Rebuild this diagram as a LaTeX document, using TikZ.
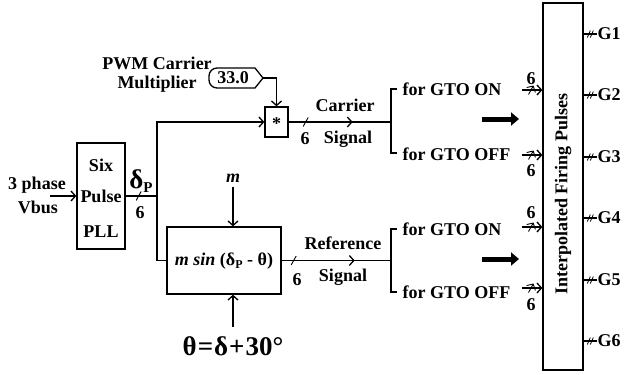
\documentclass[tikz,border=0pt]{standalone}
\usepackage{fontspec}
\setmainfont{Liberation Serif}
\usetikzlibrary{arrows.meta,decorations.markings}
\begin{document}
\begin{tikzpicture}[x=1pt,y=-1pt,line width=1.3pt,
  every node/.style={font=\fontsize{18}{20}\bfseries\selectfont,inner sep=0pt},
  blk/.style={draw,rectangle},
  arr/.style={-{Straight Barb[length=4.5pt,width=10pt]}},
  slash/.style={postaction={decorate,decoration={markings,
     mark=at position #1 with {\draw[line width=0.9pt] (-2.5,4.5) -- (2.5,-4.5);}}}},
  dslash/.style={postaction={decorate,decoration={markings,
     mark=at position 0.5 with {\draw[line width=0.8pt] (-3,3.5) -- (0,-3.5) (0,3.5) -- (3,-3.5);}}}},
  midarr/.style={postaction={decorate,decoration={markings,
     mark=at position #1 with {\arrow{Straight Barb[length=4.5pt,width=10pt]}}}}},
  thick arr/.style={line width=5pt,-{Triangle[length=8pt,width=13pt]}}
]
\useasboundingbox (0,0) rectangle (627,375);

% input
\node (ph) at (37,185) {3 phase};
\node (vb) at (38,207) {Vbus};
\coordinate (vin) at (50,196);

% PLL
\node[blk,minimum width=48,minimum height=106] (pll) at (101,196) {};
\node (six) at (101,165) {Six};
\node (pulse) at (101,196) {Pulse};
\node (plltxt) at (101,232) {PLL};
\draw[arr] (vin) -- (vin -| pll.west);

\node (dp) at (141,181) {\fontsize{27}{27}\selectfont δ\raisebox{-4pt}{\fontsize{15}{15}\selectfont P}};
\node (six1) at (140,213) {6};
\coordinate (j1) at (157,196);
\draw[slash=13pt] (pll.east) -- (j1);

% PWM constant
\node (pwm) at (157,63) {PWM Carrier};
\node (mult) at (157,84) {Multiplier};
\coordinate (ctip) at (263,78);
\draw (ctip) -- (255,88) [rounded corners=8pt] -- (209,88) -- (209,68) [sharp corners] -- (255,68) -- cycle;
\node (c33) at (233,78) {33.0};

% multiplier
\node[blk,minimum width=23,minimum height=30] (mul) at (276.5,122) {};
\node (star) at (276.5,124) {*};
\draw[arr] (ctip) -| (mul.north);
\draw[arr] (j1) |- (mul.west);

% m sin block
\node[blk,minimum width=114,minimum height=67] (ms) at (224,260.5) {};
\node (mstxt) at (224,261) {\itshape m sin\upshape\ (δ\raisebox{-3pt}{\fontsize{12}{12}\selectfont P} - θ)};
\draw (j1) |- (ms.west);
\node (m) at (233,178) {\itshape m};
\draw[arr] (m.south) ++(0,4) coordinate (mtop) (mtop) -- (mtop |- ms.north);
\node (theta) at (233,346) {\fontsize{27}{27}\selectfont θ\kern1pt=\kern1pt δ\kern1pt+\kern1pt30°};
\coordinate (thtop) at (233,327);
\draw[arr] (thtop) -- (thtop |- ms.south);

% carrier signal
\coordinate (jc) at (391,122);
\draw[slash=17pt,midarr=64pt] (mul.east) -- (jc);
\node (six2) at (305,139) {6};
\node (car) at (345,105) {Carrier};
\node (sig1) at (348,139) {Signal};
\coordinate (on1) at (397,89);
\coordinate (off1) at (397,153);
\draw (on1) -| (jc) |- (off1);
\node[anchor=west] (ton1) at (402,89) {for GTO ON};
\node[anchor=west] (toff1) at (402,154) {for GTO OFF};

% reference signal
\coordinate (jr) at (391,260.5);
\draw[slash=12pt,midarr=73pt] (ms.east) -- (jr);
\node (six3) at (297,280) {6};
\node (ref) at (343,243) {Reference};
\node (sig2) at (343,277) {Signal};
\coordinate (on2) at (397,229);
\coordinate (off2) at (397,292);
\draw (on2) -| (jr) |- (off2);
\node[anchor=west] (ton2) at (402,229) {for GTO ON};
\node[anchor=west] (toff2) at (402,292) {for GTO OFF};

% firing block
\node[blk,minimum width=40,minimum height=367] (fire) at (563,186.5) {};
\node[rotate=90] (firetxt) at (563,194) {Interpolated Firing Pulses};

\coordinate (a1) at (522,90);
\coordinate (a2) at (522,155);
\coordinate (a3) at (522,227);
\coordinate (a4) at (522,288);
\draw[arr,slash=9pt] (a1) -- (a1 -| fire.west);
\draw[arr,slash=9pt] (a2) -- (a2 -| fire.west);
\draw[arr,slash=9pt] (a3) -- (a3 -| fire.west);
\draw[arr,slash=9pt] (a4) -- (a4 -| fire.west);
\node (n1) at (531,79) {6};
\node (n2) at (531,171) {6};
\node (n3) at (531,213) {6};
\node (n4) at (531,305) {6};

\coordinate (t1s) at (482,119);
\coordinate (t1e) at (519,119);
\coordinate (t2s) at (482,259);
\coordinate (t2e) at (519,259);
\draw[thick arr] (t1s) -- (t1e);
\draw[thick arr] (t2s) -- (t2e);

% outputs
\foreach \i/\yy in {1/34,2/95,3/157,4/218,5/280,6/341}{
  \node[anchor=west] (G\i) at (597,\yy) {G\i};
  \draw[dslash] (G\i.west -| fire.east) -- (G\i.west);
}
\end{tikzpicture}
\end{document}
